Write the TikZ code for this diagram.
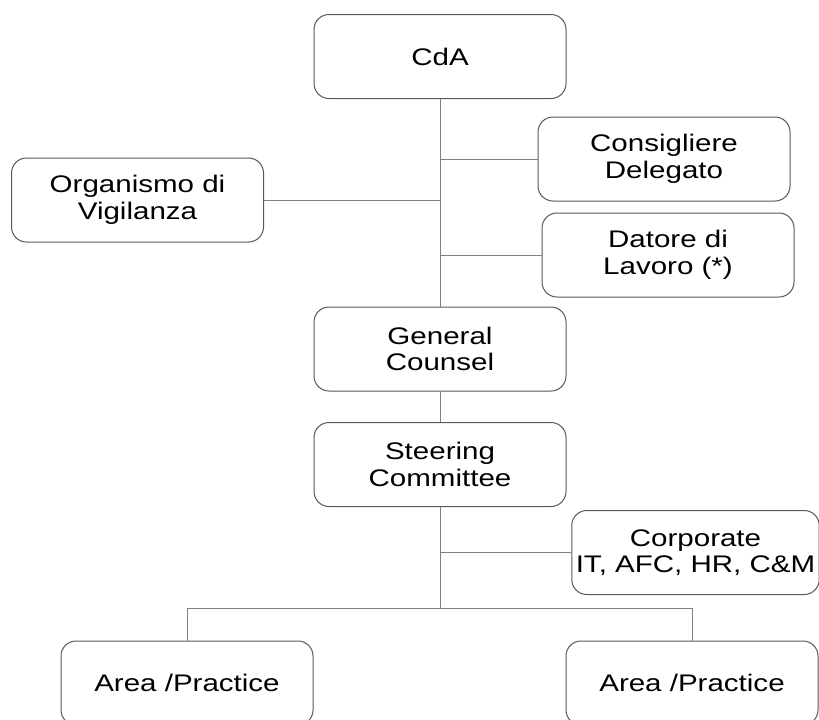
\documentclass[tikz,border=0pt]{standalone}
\usepackage{fontspec}
\newfontfamily\orgfont{Liberation Sans}[FakeStretch=1.23]
\usepackage{tikz}

\tikzset{
    orgbox/.style={draw=black!65, line width=0.5pt, rounded corners=7.5pt, fill=white,
        minimum width=126pt, minimum height=42pt, align=center, inner sep=2pt,
        font=\orgfont\fontsize{12}{13.3}\selectfont},
    link/.style={draw=black!50, line width=0.5pt}
}

\begin{document}
\begin{tikzpicture}[x=0.5pt, y=-0.5pt]
    \useasboundingbox[fill=white] (0, 0) rectangle (819, 719);

    % Top level and staff functions
    \node[orgbox] (cda) at (440, 56.5) {CdA};
    \node[orgbox] (consigliere) at (664, 159) {Consigliere\\Delegato};
    \node[orgbox] (odv) at (137.5, 200) {Organismo di\\Vigilanza};
    \node[orgbox] (datore) at (668, 255) {Datore di\\Lavoro (*)};

    % Main chain
    \node[orgbox] (gc) at (440, 349) {General\\Counsel};
    \node[orgbox] (steering) at (440, 464.5) {Steering\\Committee};
    \node[orgbox, minimum width=122.5pt] (corporate) at (695.5, 552.5) {Corporate\\IT, AFC, HR, C\&M};

    % Areas
    \node[orgbox] (areaL) at (187, 683) {Area /Practice};
    \node[orgbox] (areaR) at (692, 683) {Area /Practice};

    % Connectors
    \coordinate (split) at (440, 608);
    \draw[link] (cda.south) -- (gc.north);
    \draw[link] (consigliere.west) -- (cda.south |- consigliere.west);
    \draw[link] (odv.east) -- (cda.south |- odv.east);
    \draw[link] (datore.west) -- (cda.south |- datore.west);
    \draw[link] (gc.south) -- (steering.north);
    \draw[link] (steering.south) -- (split);
    \draw[link] (corporate.west) -- (split |- corporate.west);
    \draw[link] (split) -| (areaL.north);
    \draw[link] (split) -| (areaR.north);
\end{tikzpicture}
\end{document}
